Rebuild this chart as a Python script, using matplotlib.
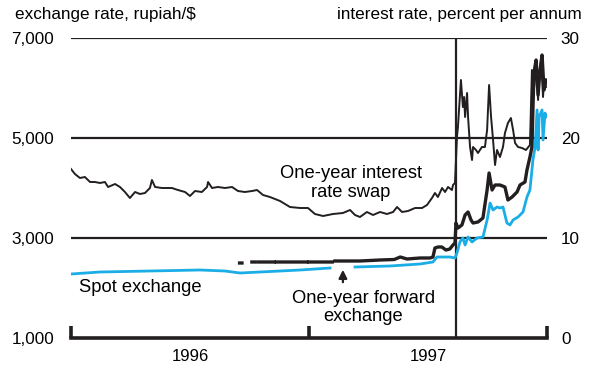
"""Indonesia 1996-97: spot and one-year forward rupiah rate, plus one-year swap rate."""
import matplotlib

matplotlib.use("Agg")
import matplotlib.pyplot as plt  # noqa: E402
import numpy as np  # noqa: E402

plt.rcParams.update({"font.family": ["Liberation Sans", "DejaVu Sans"], "font.size": 12})

BLUE = "#1BADE6"
INK = "#231F20"

# x = months since 1 Jan 1996
FLOAT_MONTH = 19.42  # rupiah floated mid-August 1997

swap_m = [0.0, 0.2, 0.45, 0.7, 0.96, 1.21, 1.46, 1.71, 1.87, 2.22, 2.47, 2.72, 2.97, 3.23,
          3.48, 3.73, 3.98, 4.08, 4.24, 4.59, 4.89, 5.09, 5.39, 5.75, 6.0, 6.25, 6.6, 6.86,
          6.91, 7.11, 7.41, 7.76, 8.12, 8.42, 8.77, 9.13, 9.38, 9.68, 10.03, 10.54, 11.04,
          11.55, 11.95, 12.3, 12.71, 13.21, 13.71, 14.07, 14.32, 14.57, 14.92, 15.23, 15.58,
          15.93, 16.24, 16.44, 16.69, 16.99, 17.35, 17.7, 17.95, 18.2, 18.35, 18.5, 18.71,
          18.86, 19.01, 19.21, 19.26, 19.36, 19.46, 19.51, 19.66, 19.76, 19.82, 19.87, 19.97,
          20.02, 20.12, 20.22, 20.27, 20.42, 20.52, 20.72, 20.87, 20.98, 21.08, 21.18, 21.28,
          21.38, 21.48, 21.63, 21.78, 21.88, 22.03, 22.18, 22.29, 22.39, 22.54, 22.74, 22.94,
          23.14, 23.24, 23.34, 23.45, 23.55, 23.6, 23.7, 23.8, 23.85, 23.95]
swap_rate = [16.9, 16.4, 16.0, 16.1, 15.6, 15.6, 15.5, 15.6, 15.1, 15.4, 15.1, 14.6, 14.0, 14.6,
             14.4, 14.5, 15.0, 15.8, 15.1, 15.0, 15.0, 15.0, 14.8, 14.6, 14.2, 14.7, 14.6, 15.1,
             15.6, 15.0, 15.1, 15.0, 15.1, 14.7, 14.6, 14.7, 14.8, 14.3, 14.1, 13.7, 13.1,
             13.0, 13.0, 12.4, 12.2, 12.4, 12.5, 12.8, 12.3, 12.1, 12.6, 12.3, 12.6,
             12.4, 12.6, 13.1, 12.6, 12.7, 13.0, 13.0, 13.3, 14.0, 14.5, 14.1, 15.0,
             14.6, 15.1, 14.8, 15.3, 15.5, 20.1, 21.1, 25.8, 23.1, 24.1, 22.1, 24.5,
             22.1, 19.1, 17.8, 19.1, 18.8, 18.5, 19.1, 19.1, 20.8, 25.3, 22.1, 19.8,
             17.3, 18.8, 18.1, 19.1, 20.5, 21.5, 22.0, 20.8, 19.5, 19.1, 19.0, 18.8,
             19.3, 26.8, 24.8, 27.3, 23.8, 26.1, 27.8, 24.1, 25.8, 25.1]

# forward quotes start in Sept 1996 with patchy early data (NaN = missing)
fwd_m = [8.5, 8.62, 8.7, 9.12, 9.26, 9.35, 9.43, 10.25, 10.3, 10.36, 11.55, 11.88, 11.93, 12.0,
         13.06, 13.17, 13.22, 13.31, 14.57, 15.58, 16.3, 16.6, 16.94, 17.6, 18.1, 18.25,
         18.35, 18.5, 18.7, 18.9, 19.1, 19.26, 19.36, 19.41, 19.51, 19.71, 19.87, 20.02,
         20.17, 20.27, 20.52, 20.77, 20.98, 21.08, 21.23, 21.38, 21.63, 21.88, 22.03, 22.24,
         22.49, 22.64, 22.89, 22.99, 23.14, 23.24, 23.34, 23.45, 23.55, 23.65, 23.75, 23.85,
         23.95]
fwd_rate = [2500, 2500, np.nan, 2520, 2520, np.nan, 2520, 2520, np.nan, 2520, 2520, 2520, np.nan,
            2520, 2520, 2520, np.nan, 2540, 2540, 2560, 2570, 2620, 2580, 2600, 2600, 2620,
            2800, 2820, 2820, 2760, 2780, 2860, 2900, 3300, 3200, 3260, 3460, 3520,
            3360, 3300, 3320, 3400, 3960, 4300, 3960, 4060, 4060, 4020, 3760, 3820,
            3920, 4060, 4120, 4360, 4620, 4820, 6300, 6560, 5860, 6360, 6660, 5960,
            6160]

spot_m = [0.0, 1.46, 3.98, 6.5, 7.76, 8.52, 9.53, 11.55, 13.06, 13.4, 14.08, 14.32, 16.08,
          17.6, 18.25, 18.45, 19.11, 19.36, 19.46, 19.61, 19.76, 19.87, 20.02, 20.22, 20.47,
          20.77, 20.98, 21.13, 21.28, 21.48, 21.63, 21.78, 21.98, 22.13, 22.29, 22.54, 22.79,
          22.99, 23.14, 23.24, 23.29, 23.4, 23.5, 23.55, 23.6, 23.75, 23.8, 23.9, 23.95]
spot_rate = [2280, 2320, 2340, 2360, 2340, 2300, 2320, 2360, 2400, np.nan, np.nan, 2420, 2440,
             2480, 2520, 2620, 2620, 2600, 2700, 2920, 3000, 2860, 3020, 2920, 3000,
             3020, 3360, 3700, 3560, 3620, 3600, 3620, 3300, 3260, 3360, 3420, 3520,
             3820, 3960, 4360, 4560, 4820, 5560, 4760, 5420, 5560, 4960, 5500, 5420]

fx_ticks = [1000, 3000, 5000, 7000]
ir_ticks = [0, 10, 20, 30]
years = ["1996", "1997"]


def main():
    fig = plt.figure(figsize=(6.0, 3.72), dpi=100)
    ax = fig.add_axes([71 / 600, 34 / 372, 476 / 600, 300 / 372])
    ax2 = ax.twinx()

    ax.set_xlim(0, 24)
    ax.set_ylim(1000, 7000)
    ax2.set_ylim(0, 30)

    for y in fx_ticks[1:]:
        ax.axhline(y, color=INK, lw=1.6, zorder=1)
    ax.axvline(FLOAT_MONTH, color=INK, lw=1.6, zorder=1)

    ax.plot(spot_m, spot_rate, color=BLUE, lw=2.0, zorder=3)
    ax.plot(fwd_m, fwd_rate, color=INK, lw=2.4, zorder=4)
    ax2.plot(swap_m, swap_rate, color=INK, lw=1.4)

    for a in (ax, ax2):
        for s in ("top", "left", "right", "bottom"):
            a.spines[s].set_visible(False)
    ax.spines["bottom"].set_visible(True)
    ax.spines["bottom"].set_linewidth(2.6)
    ax.spines["bottom"].set_color(INK)

    ax.set_yticks(fx_ticks)
    ax.set_yticklabels([f"{v:,}" for v in fx_ticks], fontsize=12.3)
    ax.tick_params(axis="y", length=0, pad=12)
    ax2.set_yticks(ir_ticks)
    ax2.set_yticklabels([str(v) for v in ir_ticks], fontsize=12.3)
    ax2.tick_params(axis="y", length=0, pad=10)

    ax.set_xticks([0, 12, 24])
    ax.set_xticklabels([])
    ax.tick_params(axis="x", which="major", direction="in", length=9, width=2.6, color=INK)
    ax.set_xticks([6, 18], minor=True)
    ax.set_xticklabels(years, minor=True, fontsize=12)
    ax.tick_params(axis="x", which="minor", length=0, pad=8)

    fig.text(15 / 600, 1 - 15 / 372, "exchange rate, rupiah/$", ha="left", va="center",
             fontsize=12.3)
    fig.text(582 / 600, 1 - 15 / 372, "interest rate, percent per annum", ha="right",
             va="center", fontsize=12.3)

    ax.text(14.1, 4100, "One-year interest\nrate swap", ha="center", va="center",
            fontsize=13.2, linespacing=1.15)
    ax.text(0.4, 2020, "Spot exchange", ha="left", va="center", fontsize=13.2)
    ax.text(14.75, 1610, "One-year forward\nexchange", ha="center", va="center",
            fontsize=13.2, linespacing=1.15)
    ax.annotate("", xy=(13.71, 2420), xytext=(13.71, 2060),
                arrowprops=dict(arrowstyle="-|>", color=INK, lw=1.6, mutation_scale=12))

    fig.savefig("out.png", dpi=100)
    plt.close(fig)


if __name__ == "__main__":
    main()
